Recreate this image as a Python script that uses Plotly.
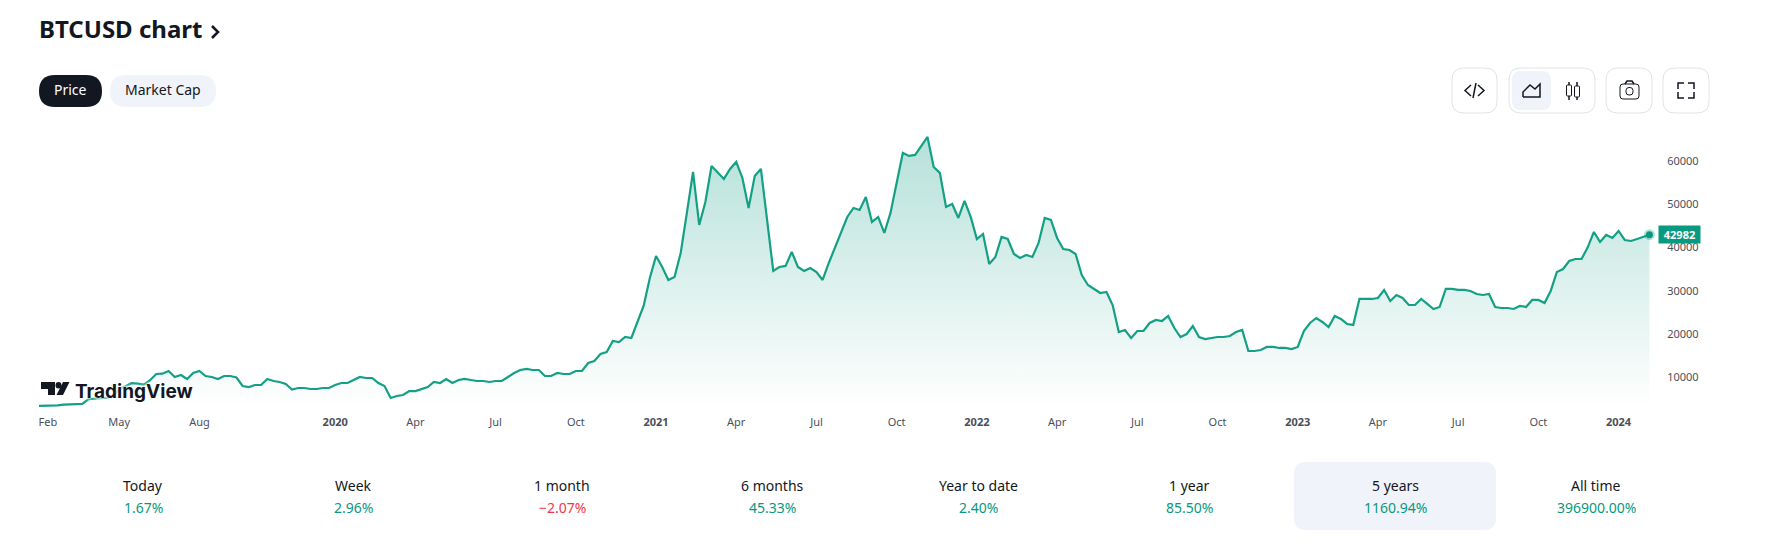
import pandas as pd
import plotly.graph_objects as go

W = 1781
H = 553

# weekly closes, first bar is 2019-02-04
prices = [
    3450, 3480, 3500, 3600, 3750, 3850, 3900, 3950, 5000, 5200,
    5250, 5350, 5700, 7300, 8000, 8700, 8600, 8400, 9400, 10830,
    10900, 11520, 10140, 10600, 9680, 11060, 11520, 10370, 10140, 9680,
    10370, 10370, 10020, 8060, 7830, 8290, 8290, 9680, 9215, 8985,
    8520, 7250, 7600, 7600, 7370, 7370, 7600, 7600, 8290, 8750,
    8750, 9450, 10140, 9910, 9910, 8750, 8060, 5300, 5750, 5980,
    6900, 6900, 7370, 7830, 8985, 8750, 9680, 8750, 9450, 9680,
    9450, 9215, 9215, 8985, 9215, 9215, 10140, 11060, 11750, 11990,
    11750, 11750, 10370, 10370, 11060, 10830, 10830, 11520, 11520, 13370,
    13830, 15450, 15910, 18450, 18220, 19370, 19140, 23070, 26600, 33000,
    38080, 35540, 32540, 33230, 38770, 48010, 57470, 45240, 50540, 58860,
    57470, 55860, 58170, 59790, 56090, 49160, 56550, 58170, 46390, 34620,
    35540, 35770, 39000, 35540, 34620, 35310, 34380, 32540, 36460, 40160,
    43850, 47080, 49160, 48700, 51700, 45930, 47080, 43390, 48010, 54700,
    61860, 61170, 61400, 63480, 65560, 58630, 57250, 49390, 50080, 46850,
    50780, 47080, 42000, 43160, 36230, 37850, 42460, 42000, 38540, 37620,
    38310, 37850, 41080, 46850, 46390, 42230, 39690, 39460, 38540, 33690,
    31380, 30460, 29530, 29760, 26760, 20530, 20990, 19140, 20760, 20760,
    22610, 23300, 23070, 24220, 21450, 19370, 20060, 21910, 19370, 18910,
    19140, 19370, 19370, 19600, 20530, 20990, 16140, 16140, 16370, 17070,
    17070, 16840, 16840, 16600, 17070, 20760, 22610, 23760, 22840, 21680,
    24220, 23530, 22380, 22150, 28150, 28150, 28150, 28380, 30230, 27690,
    29070, 28380, 26760, 26760, 28150, 27000, 25840, 26300, 30460, 30460,
    30230, 30230, 30000, 29300, 29070, 29300, 26300, 26070, 26070, 25840,
    26530, 26300, 27920, 27920, 27230, 30000, 34380, 35070, 36920, 37380,
    37380, 40070, 43620, 41310, 42930, 42230, 43850, 41770, 41540, 42000,
    42460, 42982,
]
dates = pd.date_range("2019-02-04", periods=len(prices), freq="7D")

y_ticks = [10000, 20000, 30000, 40000, 50000, 60000]
x_tick_dates = ["2019-02-14", "2019-05-06", "2019-08-05", "2020-01-06", "2020-04-06", "2020-07-06",
                "2020-10-05", "2021-01-04", "2021-04-05", "2021-07-05", "2021-10-04", "2022-01-03",
                "2022-04-04", "2022-07-04", "2022-10-03", "2023-01-02", "2023-04-03", "2023-07-03",
                "2023-10-02", "2024-01-01"]
x_tick_labels = ["Feb", "May", "Aug", "<b>2020</b>", "Apr", "Jul", "Oct", "<b>2021</b>", "Apr", "Jul",
                 "Oct", "<b>2022</b>", "Apr", "Jul", "Oct", "<b>2023</b>", "Apr", "Jul", "Oct", "<b>2024</b>"]

periods = ["Today", "Week", "1 month", "6 months", "Year to date", "1 year", "5 years", "All time"]
changes = ["1.67%", "2.96%", "−2.07%", "45.33%", "2.40%", "85.50%", "1160.94%", "396900.00%"]
period_x = [143, 353, 562, 772, 978, 1189, 1395, 1596]

GREEN = "#089981"
LINE_GREEN = "#14a085"
RED = "#f23645"
DARK = "#131722"
PALE = "#f0f3fa"
BORDER = "#e0e3eb"
FONT = "Noto Sans"


def px(x):
    return x / W


def py(y):
    return 1 - y / H


def round_rect(x0, y0, x1, y1, r):
    # rounded box given in page pixels, written in paper coordinates
    a, b, c, d = px(x0), px(x1), py(y0), py(y1)
    rx, ry = r / W, r / H
    return (f"M{a + rx},{c} L{b - rx},{c} Q{b},{c} {b},{c - ry} L{b},{d + ry} Q{b},{d} {b - rx},{d} "
            f"L{a + rx},{d} Q{a},{d} {a},{d + ry} L{a},{c - ry} Q{a},{c} {a + rx},{c} Z")


def poly(points, close=False):
    s = "M" + " L".join(f"{px(x)},{py(y)}" for x, y in points)
    return s + " Z" if close else s


shapes = []


def box(x0, y0, x1, y1, r, fill="rgba(0,0,0,0)", line=None):
    shapes.append(dict(type="path", xref="paper", yref="paper", path=round_rect(x0, y0, x1, y1, r),
                       fillcolor=fill, line=dict(color=line or fill, width=1 if line else 0)))


def stroke(points, width=1.5):
    shapes.append(dict(type="path", xref="paper", yref="paper", path=poly(points),
                       line=dict(color=DARK, width=width)))


fig = go.Figure()
fig.add_trace(go.Scatter(
    x=dates, y=prices, mode="lines", fill="tozeroy",
    line=dict(color=LINE_GREEN, width=2.2),
    fillgradient=dict(type="vertical", start=3000, stop=66000,
                      colorscale=[[0, "rgba(8,153,129,0)"], [1, "rgba(8,153,129,0.3)"]]),
    showlegend=False, hoverinfo="skip",
))
fig.add_trace(go.Scatter(
    x=dates[-1:], y=prices[-1:], mode="markers", cliponaxis=False,
    marker=dict(size=7, color=GREEN, line=dict(color="rgba(8,153,129,0.3)", width=4)),
    showlegend=False, hoverinfo="skip",
))

# pills and buttons
box(39, 75, 102, 107, 16, DARK)
box(110, 75, 216, 107, 16, PALE)
box(1452, 68, 1497, 113, 12, "white", BORDER)
box(1509, 68, 1595, 113, 12, "white", BORDER)
box(1512, 71, 1551, 110, 9, PALE)
box(1606, 68, 1652, 113, 12, "white", BORDER)
box(1663, 68, 1709, 113, 12, "white", BORDER)
box(1294, 462, 1496, 530, 12, PALE)

# code icon
stroke([(1471, 85), (1465, 90.5), (1471, 96)])
stroke([(1478, 85), (1484, 90.5), (1478, 96)])
stroke([(1476, 83), (1473, 98)])
# area icon
stroke([(1523, 97), (1523, 92), (1530, 85), (1535, 89), (1540, 84), (1540, 97), (1523, 97)])
# candle icon
stroke([(1569, 82), (1569, 100)])
box(1566.5, 85, 1571.5, 96, 1, "white", DARK)
stroke([(1577, 82), (1577, 100)])
box(1574.5, 86, 1579.5, 97, 1, "white", DARK)
# camera icon
box(1620, 84, 1639, 99, 3, "white", DARK)
box(1626, 87.5, 1633, 95, 3, "white", DARK)
stroke([(1625, 84), (1627, 81), (1632, 81), (1634, 84)])
# fullscreen icon
stroke([(1678, 89), (1678, 83), (1684, 83)])
stroke([(1688, 83), (1694, 83), (1694, 89)])
stroke([(1678, 92), (1678, 98), (1684, 98)])
stroke([(1688, 98), (1694, 98), (1694, 92)])
# title chevron
stroke([(212, 26), (218, 32), (212, 38)], 2.5)

# TradingView mark
shapes.append(dict(type="path", xref="paper", yref="paper", fillcolor=DARK, line=dict(width=0),
                   path=poly([(41, 382), (55, 382), (55, 395), (48, 395), (48, 389), (41, 389)], True)))
shapes.append(dict(type="circle", xref="paper", yref="paper", fillcolor=DARK, line=dict(width=0),
                   x0=px(55.5), x1=px(61.5), y0=py(382), y1=py(388.5)))
shapes.append(dict(type="path", xref="paper", yref="paper", fillcolor=DARK, line=dict(width=0),
                   path=poly([(56.5, 395), (63, 382), (69.5, 382), (63, 395)], True)))

annotations = []


def label(x, y, text, size=14, color=DARK, anchor="center"):
    annotations.append(dict(xref="paper", yref="paper", x=px(x), y=py(y), text=text, showarrow=False,
                            xanchor=anchor, yanchor="middle",
                            font=dict(family=FONT, size=size, color=color)))


label(37, 28, "<b>BTCUSD chart</b>", 24, DARK, "left")
label(70.5, 90, "Price", 14, "white")
label(163, 90, "Market Cap", 14, DARK)
annotations.append(dict(xref="paper", yref="paper", x=px(73), y=py(391), text="TradingView", showarrow=False,
                        xanchor="left", yanchor="middle",
                        font=dict(family="Inter", size=19, color=DARK, weight=700,
                                  shadow="white 0 0 3px, white 0 0 3px, white 0 0 4px")))
for name, change, x in zip(periods, changes, period_x):
    label(x, 485, name, 14, DARK)
    label(x, 507, change, 14, RED if change.startswith("−") else GREEN)

# last price tag on the axis
annotations.append(dict(xref="paper", yref="y", x=px(1658), y=prices[-1], text=f"<b>{prices[-1]}</b>",
                        showarrow=False, xanchor="left", yanchor="middle", width=41, height=17,
                        bgcolor=GREEN, borderpad=0, font=dict(family=FONT, size=11, color="white")))

fig.update_layout(
    width=W, height=H, margin=dict(l=0, r=0, t=0, b=0),
    paper_bgcolor="white", plot_bgcolor="white",
    shapes=shapes, annotations=annotations,
    xaxis=dict(domain=[px(39), px(1660)], range=["2019-02-04", "2024-02-17"], type="date",
               tickmode="array", tickvals=x_tick_dates, ticktext=x_tick_labels,
               showgrid=False, zeroline=False, showline=False, ticks="outside", ticklen=4,
               tickcolor="white", tickangle=0, tickfont=dict(family=FONT, size=11, color="#4a4f5a")),
    yaxis=dict(domain=[py(408), py(110)], range=[2982, 71773], side="right", anchor="x",
               tickmode="array", tickvals=y_ticks, showgrid=False, zeroline=False, showline=False,
               ticks="outside", ticklen=4, tickcolor="white", separatethousands=False,
               tickformat="d", tickfont=dict(family=FONT, size=11, color="#4a4f5a")),
)

fig.write_html("out.html", config=dict(displayModeBar=False),
               post_script="document.body.style.margin='0';")
